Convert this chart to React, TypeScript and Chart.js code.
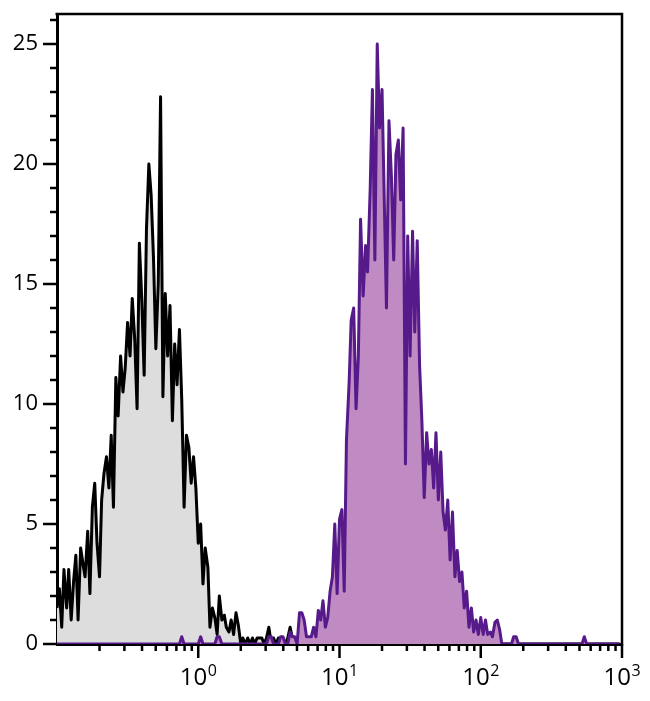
import React, { useEffect, useRef } from "react";
import { Chart, registerables } from "chart.js";

Chart.register(...registerables);

// Histogram channels (fluorescence intensity, log-spaced bins)
const channels: number[] = [
  0.100, 0.104, 0.108, 0.112, 0.117, 0.121, 0.126, 0.131, 0.136, 0.141, 0.147, 0.153, 0.158, 0.165, 0.171, 0.178, 0.185, 0.192, 0.200, 0.207,
  0.215, 0.224, 0.233, 0.242, 0.251, 0.261, 0.271, 0.282, 0.293, 0.304, 0.316, 0.329, 0.341, 0.355, 0.369, 0.383, 0.398, 0.414, 0.430, 0.447,
  0.464, 0.482, 0.501, 0.521, 0.541, 0.562, 0.584, 0.607, 0.631, 0.656, 0.681, 0.708, 0.736, 0.764, 0.794, 0.825, 0.858, 0.891, 0.926, 0.962,
  1.00, 1.04, 1.08, 1.12, 1.17, 1.21, 1.26, 1.31, 1.36, 1.41, 1.47, 1.53, 1.58, 1.65, 1.71, 1.78, 1.85, 1.92, 2.00, 2.07,
  2.15, 2.24, 2.33, 2.42, 2.51, 2.61, 2.71, 2.82, 2.93, 3.04, 3.16, 3.29, 3.41, 3.55, 3.69, 3.83, 3.98, 4.14, 4.30, 4.47,
  4.64, 4.82, 5.01, 5.21, 5.41, 5.62, 5.84, 6.07, 6.31, 6.56, 6.81, 7.08, 7.36, 7.64, 7.94, 8.25, 8.58, 8.91, 9.26, 9.62,
  10.0, 10.4, 10.8, 11.2, 11.7, 12.1, 12.6, 13.1, 13.6, 14.1, 14.7, 15.3, 15.8, 16.5, 17.1, 17.8, 18.5, 19.2, 20.0, 20.7,
  21.5, 22.4, 23.3, 24.2, 25.1, 26.1, 27.1, 28.2, 29.3, 30.4, 31.6, 32.9, 34.1, 35.5, 36.9, 38.3, 39.8, 41.4, 43.0, 44.7,
  46.4, 48.2, 50.1, 52.1, 54.1, 56.2, 58.4, 60.7, 63.1, 65.6, 68.1, 70.8, 73.6, 76.4, 79.4, 82.5, 85.8, 89.1, 92.6, 96.2,
  100, 104, 108, 112, 117, 121, 126, 131, 136, 141, 147, 153, 158, 165, 171, 178, 185, 192, 200, 207,
  215, 224, 233, 242, 251, 261, 271, 282, 293, 304, 316, 329, 341, 355, 369, 383, 398, 414, 430, 447,
  464, 482, 501, 521, 541, 562, 584, 607, 631, 656, 681, 708, 736, 764, 794, 825, 858, 891, 926, 962,
];

// Control (grey) histogram
const controlCounts: number[] = [
  1.5, 2.3, 0.7, 3.1, 1.5, 3.1, 1.0, 2.6, 3.7, 1.0, 4.0, 3.3, 2.8, 4.7, 2.1, 5.7, 6.7, 4.2, 2.8, 6.0,
  7.1, 7.8, 6.5, 8.7, 5.7, 11.1, 9.5, 12.0, 10.5, 11.5, 13.4, 12.0, 14.4, 12.7, 9.8, 16.7, 14.4, 11.2, 17.3, 20.0,
  18.7, 16.1, 12.3, 15.0, 22.8, 10.3, 14.6, 12.0, 14.1, 9.3, 12.5, 10.8, 13.1, 10.2, 5.7, 8.7, 8.2, 6.7, 7.8, 6.5,
  4.2, 5.0, 2.5, 4.0, 3.2, 0.7, 1.5, 1.1, 0.4, 2.0, 1.0, 1.2, 0.7, 0.5, 1.0, 0.4, 1.3, 0.8, 0, 0.25,
  0, 0.25, 0, 0.25, 0, 0.25, 0.25, 0.25, 0, 0.25, 0.7, 0, 0.25, 0, 0.25, 0, 0.25, 0, 0.25, 0.7,
  0.25, 0, 0.25, 0, 0, 0, 0, 0, 0, 0, 0, 0, 0, 0, 0, 0, 0, 0, 0, 0,
  0, 0, 0, 0, 0, 0, 0, 0, 0, 0, 0, 0, 0, 0, 0, 0, 0, 0, 0, 0,
  0, 0, 0, 0, 0, 0, 0, 0, 0, 0, 0, 0, 0, 0, 0, 0, 0, 0, 0, 0,
  0, 0, 0, 0, 0, 0, 0, 0, 0, 0, 0, 0, 0, 0, 0, 0, 0, 0, 0, 0,
  0, 0, 0, 0, 0, 0, 0, 0, 0, 0, 0, 0, 0, 0, 0, 0, 0, 0, 0, 0,
  0, 0, 0, 0, 0, 0, 0, 0, 0, 0, 0, 0, 0, 0, 0, 0, 0, 0, 0, 0,
  0, 0, 0, 0, 0, 0, 0, 0, 0, 0, 0, 0, 0, 0, 0, 0, 0, 0, 0, 0,
];

// Stained (purple) histogram
const stainedCounts: number[] = [
  0, 0, 0, 0, 0, 0, 0, 0, 0, 0, 0, 0, 0, 0, 0, 0, 0, 0, 0, 0,
  0, 0, 0, 0, 0, 0, 0, 0, 0, 0, 0, 0, 0, 0, 0, 0, 0, 0, 0, 0,
  0, 0, 0, 0, 0, 0, 0, 0, 0, 0, 0, 0, 0, 0.3, 0, 0, 0, 0, 0, 0,
  0, 0.3, 0, 0, 0, 0, 0, 0, 0.3, 0.3, 0, 0, 0, 0, 0, 0, 0, 0, 0, 0,
  0, 0, 0, 0, 0, 0, 0, 0, 0, 0, 0.3, 0.3, 0, 0, 0, 0.3, 0.3, 0, 0, 0.5,
  0.3, 0.3, 0, 1.3, 1.3, 1.0, 0.3, 0.3, 0.3, 0.7, 0.3, 1.4, 1.0, 1.8, 0.7, 1.1, 2.2, 2.8, 5.0, 2.1,
  5.2, 5.6, 2.2, 8.5, 10.9, 13.5, 14.0, 9.8, 12.0, 17.7, 14.5, 16.6, 15.5, 19.0, 23.1, 16.0, 25.0, 21.5, 23.1, 18.8,
  14.0, 21.8, 19.5, 16.0, 20.4, 21.0, 18.5, 21.5, 7.5, 17.0, 12.0, 17.2, 13.0, 16.8, 11.6, 9.3, 6.1, 8.8, 7.5, 8.1,
  6.5, 8.8, 6.0, 8.0, 5.5, 4.75, 6.0, 3.5, 5.5, 2.8, 3.9, 2.6, 3.0, 1.5, 2.2, 0.7, 1.5, 0.5, 1.0, 0.4,
  1.1, 0.4, 1.0, 0.4, 0.5, 0.3, 0.9, 1.0, 0.6, 0, 0, 0, 0, 0, 0.3, 0.3, 0, 0, 0, 0,
  0, 0, 0, 0, 0, 0, 0, 0, 0, 0, 0, 0, 0, 0, 0, 0, 0, 0, 0, 0,
  0, 0, 0, 0, 0.3, 0, 0, 0, 0, 0, 0, 0, 0, 0, 0, 0, 0, 0, 0, 0,
];

const yMinorTicks: number[] = [1, 2, 3, 4, 6, 7, 8, 9, 11, 12, 13, 14, 16, 17, 18, 19, 21, 22, 23, 24, 26];
const yMajorTicks: number[] = [0, 5, 10, 15, 20, 25];
const xMajorTicks: number[] = [1, 10, 100, 1000];
const xMajorExponents: string[] = ["0", "1", "2", "3"];
const xMinorTicks: number[] = [
  0.2, 0.3, 0.4, 0.5, 0.6, 0.7, 0.8, 0.9,
  2, 3, 4, 5, 6, 7, 8, 9,
  20, 30, 40, 50, 60, 70, 80, 90,
  200, 300, 400, 500, 600, 700, 800, 900,
];

const PURPLE_LINE = "#571a8b";
const PURPLE_FILL = "#c08ac2";
const GREY_FILL = "#dddddd";
const FONT = "'Open Sans', 'DejaVu Sans', sans-serif";

export default function App() {
  const ref = useRef<HTMLCanvasElement>(null);

  useEffect(() => {
    const canvas = ref.current;
    if (!canvas) return;
    const toPoints = (ys: number[]) => channels.map((c, i) => ({ x: c, y: ys[i] }));

    const decor = {
      id: "decor",
      afterDraw(chart: any) {
        const { ctx, chartArea: a, scales } = chart;
        const xs = scales.x;
        const ys = scales.y;
        ctx.save();
        ctx.strokeStyle = "#000";
        ctx.lineWidth = 2.5;
        ctx.lineCap = "butt";
        // top and right frame
        ctx.beginPath();
        ctx.moveTo(a.left - 1.5, a.top);
        ctx.lineTo(a.right, a.top);
        ctx.lineTo(a.right, a.bottom + 1.5);
        ctx.stroke();
        // y ticks
        ctx.beginPath();
        for (const v of yMajorTicks) {
          const p = ys.getPixelForValue(v);
          ctx.moveTo(a.left - 14, p);
          ctx.lineTo(a.left, p);
        }
        for (const v of yMinorTicks) {
          const p = ys.getPixelForValue(v);
          ctx.moveTo(a.left - 7, p);
          ctx.lineTo(a.left, p);
        }
        // x ticks
        for (const v of xMajorTicks) {
          const p = xs.getPixelForValue(v);
          ctx.moveTo(p, a.bottom);
          ctx.lineTo(p, a.bottom + 14);
        }
        for (const v of xMinorTicks) {
          const p = xs.getPixelForValue(v);
          ctx.moveTo(p, a.bottom);
          ctx.lineTo(p, a.bottom + 7);
        }
        ctx.stroke();
        // x labels: 10 with superscript exponent
        ctx.fillStyle = "#000";
        ctx.textAlign = "left";
        ctx.textBaseline = "alphabetic";
        xMajorTicks.forEach((v, i) => {
          const p = xs.getPixelForValue(v);
          ctx.font = `24px ${FONT}`;
          const bw = ctx.measureText("10").width;
          ctx.font = `16px ${FONT}`;
          const ew = ctx.measureText(xMajorExponents[i]).width;
          const gap = 0.5;
          const x0 = p - (bw + gap + ew) / 2;
          ctx.font = `24px ${FONT}`;
          ctx.fillText("10", x0, a.bottom + 41);
          ctx.font = `16px ${FONT}`;
          ctx.fillText(xMajorExponents[i], x0 + bw + gap, a.bottom + 32);
        });
        ctx.restore();
      },
    };

    const chart = new Chart(canvas, {
      type: "line",
      data: {
        datasets: [
          {
            label: "Stained",
            data: toPoints(stainedCounts),
            borderColor: PURPLE_LINE,
            backgroundColor: PURPLE_FILL,
            fill: "origin",
            borderWidth: 3,
            borderJoinStyle: "round",
            pointRadius: 0,
            tension: 0,
          },
          {
            label: "Control",
            data: toPoints(controlCounts),
            borderColor: "#000000",
            backgroundColor: GREY_FILL,
            fill: "origin",
            borderWidth: 3,
            borderJoinStyle: "round",
            pointRadius: 0,
            tension: 0,
          },
        ],
      },
      options: {
        responsive: false,
        animation: false,
        events: [],
        layout: { padding: { top: 14, right: 28, left: 0, bottom: 0 } },
        plugins: { legend: { display: false }, tooltip: { enabled: false } },
        scales: {
          x: {
            type: "logarithmic",
            position: "bottom",
            min: 0.1,
            max: 1000,
            z: 1,
            grid: { display: false, drawTicks: false },
            border: { display: true, color: "#000", width: 3 },
            ticks: { display: false },
            afterFit: (s: any) => {
              s.height = 57;
              s.paddingLeft = 0;
              s.paddingRight = 0;
              s.paddingTop = 0;
              s.paddingBottom = 0;
            },
          },
          y: {
            type: "linear",
            position: "left",
            min: 0,
            max: 26.25,
            z: 1,
            grid: { display: false, drawTicks: false },
            border: { display: true, color: "#000", width: 3 },
            ticks: {
              stepSize: 5,
              includeBounds: false,
              autoSkip: false,
              padding: 19,
              color: "#000",
              font: { family: FONT, size: 22 },
              callback: (v: any) => (Number(v) % 5 === 0 ? String(v) : ""),
            },
            afterFit: (s: any) => {
              s.width = 57;
              s.paddingLeft = 0;
              s.paddingRight = 0;
              s.paddingTop = 0;
              s.paddingBottom = 0;
            },
          },
        },
      } as any,
      plugins: [decor],
    });
    return () => chart.destroy();
  }, []);

  return (
    <div style={{ position: "fixed", left: 0, top: 0, width: 650, height: 701, background: "#fff" }}>
      <canvas ref={ref} width={650} height={701} style={{ display: "block" }} />
    </div>
  );
}
